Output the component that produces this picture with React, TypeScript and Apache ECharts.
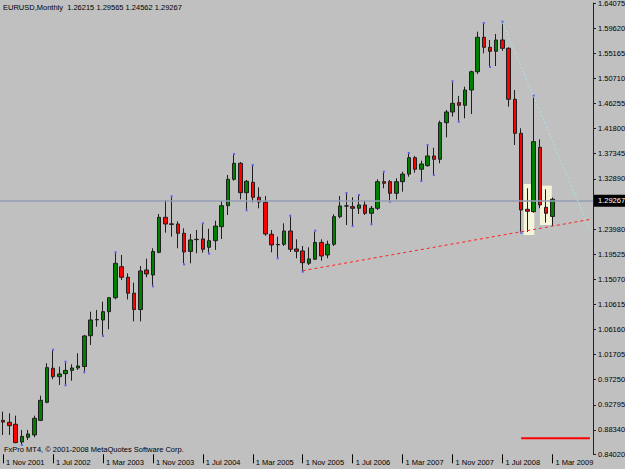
import React, { useEffect, useRef } from 'react';
import * as echarts from 'echarts';

const FONT = '"Liberation Sans", Arial, sans-serif';
const MONTHS = ['Jan', 'Feb', 'Mar', 'Apr', 'May', 'Jun', 'Jul', 'Aug', 'Sep', 'Oct', 'Nov', 'Dec'];
const START_YEAR = 2001;
const START_MONTH = 10; // Nov
const EMPTY_SLOTS = 6;

// Monthly EURUSD, Nov 2001 .. Mar 2009
const opens = [
  0.9004, 0.8970, 0.8935, 0.8620, 0.8704, 0.8745, 0.9004, 0.9325, 0.9928, 0.9779,
  0.9832, 0.9891, 0.9933, 0.9960, 1.0506, 1.0788, 1.0785, 1.0932, 1.1180, 1.1730,
  1.1542, 1.1260, 1.0970, 1.1672, 1.1583, 1.1985, 1.2606, 1.2490, 1.2487, 1.2322,
  1.2001, 1.2210, 1.2222, 1.2074, 1.2191, 1.2440, 1.2812, 1.3280, 1.3564, 1.3043,
  1.3227, 1.2961, 1.2872, 1.2305, 1.2118, 1.2127, 1.2363, 1.2044, 1.2009, 1.1791,
  1.1862, 1.2161, 1.1938, 1.2128, 1.2617, 1.2805, 1.2795, 1.2766, 1.2825, 1.2677,
  1.2766, 1.3238, 1.3238, 1.3032, 1.3238, 1.3372, 1.3663, 1.3458, 1.3522, 1.3694,
  1.3635, 1.4284, 1.4474, 1.4640, 1.4593, 1.4864, 1.5189, 1.5799, 1.5622, 1.5551,
  1.5751, 1.5604, 1.4699, 1.4096, 1.2748, 1.2706, 1.3848, 1.2784, 1.26215,
];
const closes = [
  0.8974, 0.8910, 0.8609, 0.8720, 0.8763, 0.9040, 0.9359, 0.9939, 0.9779, 0.9827,
  0.9891, 0.9933, 0.9969, 1.0501, 1.0785, 1.0792, 1.0932, 1.1180, 1.1790, 1.1542,
  1.1260, 1.0970, 1.1654, 1.1601, 1.1999, 1.2606, 1.2487, 1.2480, 1.2322, 1.1991,
  1.2204, 1.2216, 1.2039, 1.2191, 1.2451, 1.2812, 1.3280, 1.3564, 1.3043, 1.3245,
  1.2961, 1.2878, 1.2310, 1.2115, 1.2124, 1.2363, 1.2039, 1.2003, 1.1801, 1.1868,
  1.2161, 1.1920, 1.2128, 1.2617, 1.2807, 1.2809, 1.2766, 1.2825, 1.2677, 1.2766,
  1.3238, 1.3210, 1.3032, 1.3238, 1.3372, 1.3663, 1.3458, 1.3552, 1.3694, 1.3635,
  1.4284, 1.4474, 1.4628, 1.4593, 1.4864, 1.5189, 1.5799, 1.5622, 1.5551, 1.5751,
  1.5604, 1.4699, 1.4096, 1.2736, 1.2713, 1.3948, 1.2825, 1.2677, 1.29267,
];
const lows = [
  0.8745, 0.8745, 0.8598, 0.8586, 0.8657, 0.8705, 0.8991, 0.9307, 0.9733, 0.9632,
  0.9644, 0.9708, 0.9898, 0.9875, 1.0342, 1.0666, 1.0519, 1.0620, 1.1150, 1.1494,
  1.1150, 1.0760, 1.0760, 1.1542, 1.1400, 1.1968, 1.2333, 1.2262, 1.2057, 1.1790,
  1.1790, 1.1968, 1.1979, 1.1979, 1.2027, 1.2222, 1.2647, 1.3256, 1.2926, 1.2748,
  1.2872, 1.2766, 1.2280, 1.1985, 1.1897, 1.2097, 1.1991, 1.1879, 1.1659, 1.1760,
  1.1849, 1.1837, 1.1879, 1.2097, 1.2589, 1.2470, 1.2470, 1.2665, 1.2647, 1.2500,
  1.2736, 1.3121, 1.2901, 1.2925, 1.3061, 1.3326, 1.3397, 1.3268, 1.3504, 1.3374,
  1.3564, 1.4025, 1.4391, 1.4320, 1.4362, 1.4439, 1.5148, 1.5515, 1.5290, 1.5290,
  1.5561, 1.4568, 1.3889, 1.2351, 1.2346, 1.2688, 1.2766, 1.2511, 1.24562,
];
const highs = [
  0.9159, 0.9130, 0.9087, 0.8834, 0.8834, 0.9087, 0.9442, 1.0017, 1.0240, 0.9957,
  1.0027, 0.9998, 1.0194, 1.0519, 1.0932, 1.0962, 1.1110, 1.1190, 1.1968, 1.1938,
  1.1613, 1.1447, 1.1743, 1.1872, 1.2057, 1.2665, 1.2913, 1.2961, 1.2535, 1.2411,
  1.2310, 1.2381, 1.2482, 1.2404, 1.2546, 1.2896, 1.3357, 1.3711, 1.3587, 1.3268,
  1.3516, 1.3138, 1.2984, 1.2381, 1.2262, 1.2500, 1.2617, 1.2216, 1.2097, 1.2074,
  1.2351, 1.2216, 1.2192, 1.2660, 1.2984, 1.3020, 1.2961, 1.2984, 1.2901, 1.2807,
  1.3280, 1.3397, 1.3268, 1.3298, 1.3415, 1.3729, 1.3694, 1.3610, 1.3871, 1.3841,
  1.4320, 1.4510, 1.5001, 1.4758, 1.4923, 1.5207, 1.5898, 1.6035, 1.5751, 1.5858,
  1.6058, 1.5622, 1.4864, 1.4185, 1.3121, 1.4746, 1.3990, 1.3103, 1.29565,
];

// small blue marks at swing highs / lows (month indexes)
const markHighIdx = [8, 10, 18, 27, 32, 37, 40, 46, 50, 55, 57, 61, 65, 68, 72, 77, 80, 85];
const markLowIdx = [3, 10, 13, 16, 24, 29, 33, 39, 44, 48, 56, 59, 62, 67, 69, 73, 78, 83];

// price scale ticks; the 1.28435 label sits under the bid box, so only its tick is drawn
const yTicks = [
  1.64075, 1.5962, 1.55165, 1.5071, 1.46255, 1.418, 1.37345, 1.3289, 1.28435,
  1.2398, 1.19525, 1.1507, 1.10615, 1.0616, 1.01705, 0.9725, 0.92795, 0.8834, 0.8402,
];
const yLabels = [
  1.64075, 1.5962, 1.55165, 1.5071, 1.46255, 1.418, 1.37345, 1.3289,
  1.2398, 1.19525, 1.1507, 1.10615, 1.0616, 1.01705, 0.9725, 0.92795, 0.8834, 0.8402,
];
const Y_MIN = 0.8402;
const Y_MAX = 1.64075;

const titleText = 'EURUSD,Monthly  1.26215 1.29565 1.24562 1.29267';
const footerText = 'FxPro MT4, \u00A9 2001-2008 MetaQuotes Software Corp.';
const bidPrice = 1.29267;

// drawn objects: [monthIndex, price]
const supportLine = [[48, 1.1659], [94, 1.2568]];
const resistanceLine = [[80, 1.6058], [94, 1.2384]];
const bottomRedLine = [[83, 0.8687], [94, 0.8687]];
// boxes: [fromMonthIndex, toMonthIndex, topPrice, bottomPrice]
const boxes = [
  [83.4, 85.1, 1.3197, 1.2292],
  [86.0, 87.9, 1.3167, 1.247],
];

function buildCategories(count: number): string[] {
  const out: string[] = [];
  for (let i = 0; i < count; i++) {
    const m = (START_MONTH + i) % 12;
    const y = START_YEAR + Math.floor((START_MONTH + i) / 12);
    out.push(`1 ${MONTHS[m]} ${y}`);
  }
  return out;
}

export default function App() {
  const ref = useRef<HTMLDivElement>(null);
  useEffect(() => {
    document.body.style.margin = '0';
    if (!ref.current) return;
    const chart = echarts.init(ref.current, undefined, { renderer: 'svg' });
    const categories = buildCategories(opens.length + EMPTY_SLOTS);
    const candles = opens.map((o, i) => [o, closes[i], lows[i], highs[i]]);

    chart.setOption({
      animation: false,
      backgroundColor: '#c0c0c0',
      textStyle: { fontFamily: FONT },
      grid: { left: 0, right: 32, top: 3, height: 451.3, containLabel: false, outerBoundsMode: 'none' },
      xAxis: {
        type: 'category',
        data: categories,
        boundaryGap: true,
        axisLine: { show: false },
        axisTick: { show: true, interval: 7, alignWithLabel: true, length: 9, lineStyle: { color: '#000' } },
        axisLabel: {
          interval: 7, align: 'left', margin: 4, padding: [0, 0, 0, 3],
          fontSize: 7.5, color: '#000', fontFamily: FONT,
        },
        splitLine: { show: false },
      },
      yAxis: {
        type: 'value',
        position: 'right',
        min: Y_MIN,
        max: Y_MAX,
        scale: true,
        axisLine: { show: true, lineStyle: { color: '#222', width: 1 } },
        axisTick: { show: true, length: 3, customValues: yTicks, lineStyle: { color: '#222' } },
        axisLabel: {
          customValues: yLabels,
          formatter: (v: number) => v.toFixed(5),
          margin: 5, fontSize: 7.5, color: '#000', fontFamily: FONT,
        },
        splitLine: { show: false },
      },
      graphic: [
        { type: 'text', left: 3, top: 3, z: 100, style: { text: titleText, fontSize: 7.5, fill: '#000', font: `7.5px ${FONT}` } },
        { type: 'text', left: 4, top: 445, z: 100, style: { text: footerText, fontSize: 7.5, fill: '#000', font: `7.5px ${FONT}` } },
      ],
      series: [
        {
          name: 'bid',
          type: 'line',
          z: 1,
          data: [[0, bidPrice]],
          symbol: 'none',
          lineStyle: { opacity: 0 },
          silent: true,
          markLine: {
            silent: true,
            symbol: 'none',
            lineStyle: { color: '#939eb4', type: 'solid', width: 1.6 },
            label: {
              show: true, position: 'end', distance: 1,
              formatter: () => bidPrice.toFixed(5),
              color: '#fff', backgroundColor: '#000', padding: [2, 3, 2, 4],
              fontSize: 7.5, fontFamily: FONT,
            },
            data: [{ yAxis: bidPrice }],
          },
        },
        {
          name: 'boxes',
          type: 'custom',
          z: 2,
          silent: true,
          data: boxes.map((b) => [0, b[2], b[0], b[1], b[3]]),
          encode: { x: 0, y: 1 },
          renderItem: (params: any, api: any) => {
            const band = api.size([1, 0])[0];
            const top = api.coord([0, api.value(1)]);
            const bottom = api.coord([0, api.value(4)]);
            const x0 = top[0] + api.value(2) * band;
            const x1 = top[0] + api.value(3) * band;
            return {
              type: 'rect',
              shape: { x: x0, y: top[1], width: x1 - x0, height: bottom[1] - top[1] },
              style: { fill: '#f5f5dc' },
            };
          },
        },
        {
          name: 'EURUSD',
          type: 'candlestick',
          z: 3,
          barWidth: 4,
          data: candles,
          itemStyle: {
            color: '#008000', color0: '#ff0000',
            borderColor: '#1e1e1e', borderColor0: '#1e1e1e', borderColorDoji: '#1e1e1e',
            borderWidth: 1,
          },
        },
        {
          name: 'marks',
          type: 'scatter',
          z: 4,
          symbol: 'rect',
          symbolSize: 2,
          itemStyle: { color: '#4444ff' },
          data: [
            ...markHighIdx.map((i) => ({ value: [i, highs[i]], symbolOffset: [0, -1] })),
            ...markLowIdx.map((i) => ({ value: [i, lows[i]], symbolOffset: [0, 1] })),
          ],
        },
        {
          name: 'support',
          type: 'line',
          z: 5,
          data: supportLine,
          symbol: 'none',
          lineStyle: { color: '#ff2020', width: 1, type: [3, 3] },
        },
        {
          name: 'resistance',
          type: 'line',
          z: 5,
          data: resistanceLine,
          symbol: 'none',
          lineStyle: { color: '#a8e2ec', width: 1, type: [2, 2] },
        },
        {
          name: 'level',
          type: 'line',
          z: 5,
          data: bottomRedLine,
          symbol: 'none',
          lineStyle: { color: '#ff0000', width: 2 },
        },
      ],
    });
    return () => chart.dispose();
  }, []);
  return <div ref={ref} style={{ position: 'absolute', left: 0, top: 0, width: 625, height: 469 }} />;
}
